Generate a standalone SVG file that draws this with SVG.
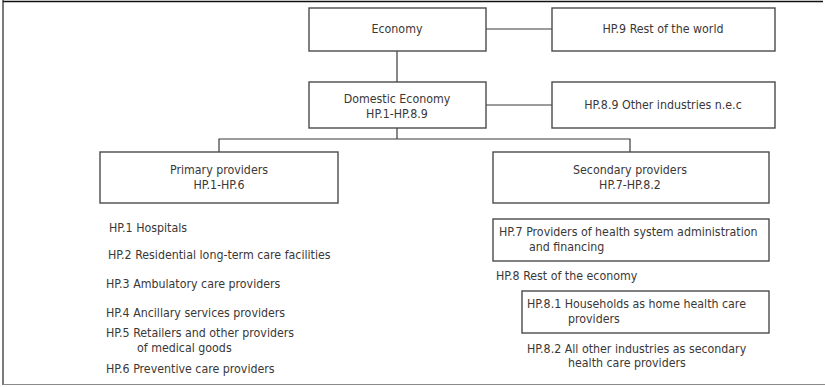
<svg xmlns="http://www.w3.org/2000/svg" width="825" height="387" viewBox="0 0 825 387">
  <style>
    .box { fill: #ffffff; stroke: #4a4a4a; stroke-width: 1.4; }
    .link { fill: none; stroke: #3a3a3a; stroke-width: 1.2; }
    text { font-family: "DejaVu Sans Condensed", "Liberation Sans", Arial, sans-serif; font-stretch: condensed; font-size: 12.3px; fill: #3a3836; }
    .c { text-anchor: middle; }
  </style>
  <rect width="825" height="387" fill="#ffffff"/>
  <!-- frame -->
  <line x1="3" y1="1.5" x2="823" y2="1.5" stroke="#111" stroke-width="1.6"/>
  <line x1="3" y1="0" x2="3" y2="385" stroke="#222" stroke-width="1.2"/>
  <line x1="3" y1="384.5" x2="825" y2="384.5" stroke="#888" stroke-width="1.2"/>

  <g id="connectors">
    <line class="link" x1="486" y1="29" x2="552" y2="29"/>
    <line class="link" x1="397" y1="51" x2="397" y2="82"/>
    <line class="link" x1="486" y1="105" x2="552" y2="105"/>
    <polyline class="link" points="397,128 397,139"/>
    <polyline class="link" points="219,152 219,139 630,139 630,152"/>
  </g>

  <g id="economy">
    <rect class="box" x="309" y="8" width="177" height="43"/>
    <text class="c" x="397" y="33">Economy</text>
  </g>
  <g id="rest-of-world">
    <rect class="box" x="552" y="8" width="223" height="43"/>
    <text class="c" x="663" y="33">HP.9 Rest of the world</text>
  </g>
  <g id="domestic-economy">
    <rect class="box" x="309" y="82" width="177" height="46"/>
    <text class="c" x="397" y="103">Domestic Economy</text>
    <text class="c" x="397" y="118">HP.1-HP.8.9</text>
  </g>
  <g id="other-industries">
    <rect class="box" x="552" y="82" width="223" height="46"/>
    <text class="c" x="663" y="109">HP.8.9 Other industries n.e.c</text>
  </g>
  <g id="primary-providers">
    <rect class="box" x="100" y="152" width="238" height="51"/>
    <text class="c" x="219" y="174">Primary providers</text>
    <text class="c" x="219" y="189">HP.1-HP.6</text>
  </g>
  <g id="secondary-providers">
    <rect class="box" x="493" y="152" width="276" height="51"/>
    <text class="c" x="630" y="174">Secondary providers</text>
    <text class="c" x="630" y="189">HP.7-HP.8.2</text>
  </g>

  <g id="primary-list">
    <text x="109" y="232">HP.1 Hospitals</text>
    <text x="108" y="259">HP.2 Residential long-term care facilities</text>
    <text x="106" y="288">HP.3 Ambulatory care providers</text>
    <text x="106" y="317">HP.4 Ancillary services providers</text>
    <text x="106" y="337">HP.5 Retailers and other providers</text>
    <text x="137" y="352">of medical goods</text>
    <text x="106" y="373">HP.6 Preventive care providers</text>
  </g>

  <g id="hp7">
    <rect class="box" x="493" y="219" width="276" height="42"/>
    <text x="499" y="236">HP.7 Providers of health system administration</text>
    <text x="529" y="251">and financing</text>
  </g>
  <g id="hp8">
    <text x="496" y="280">HP.8 Rest of the economy</text>
  </g>
  <g id="hp81">
    <rect class="box" x="522" y="291" width="247" height="42"/>
    <text x="527" y="308">HP.8.1 Households as home health care</text>
    <text x="568" y="323">providers</text>
  </g>
  <g id="hp82">
    <text x="527" y="353">HP.8.2 All other industries as secondary</text>
    <text x="568" y="367">health care providers</text>
  </g>
</svg>
